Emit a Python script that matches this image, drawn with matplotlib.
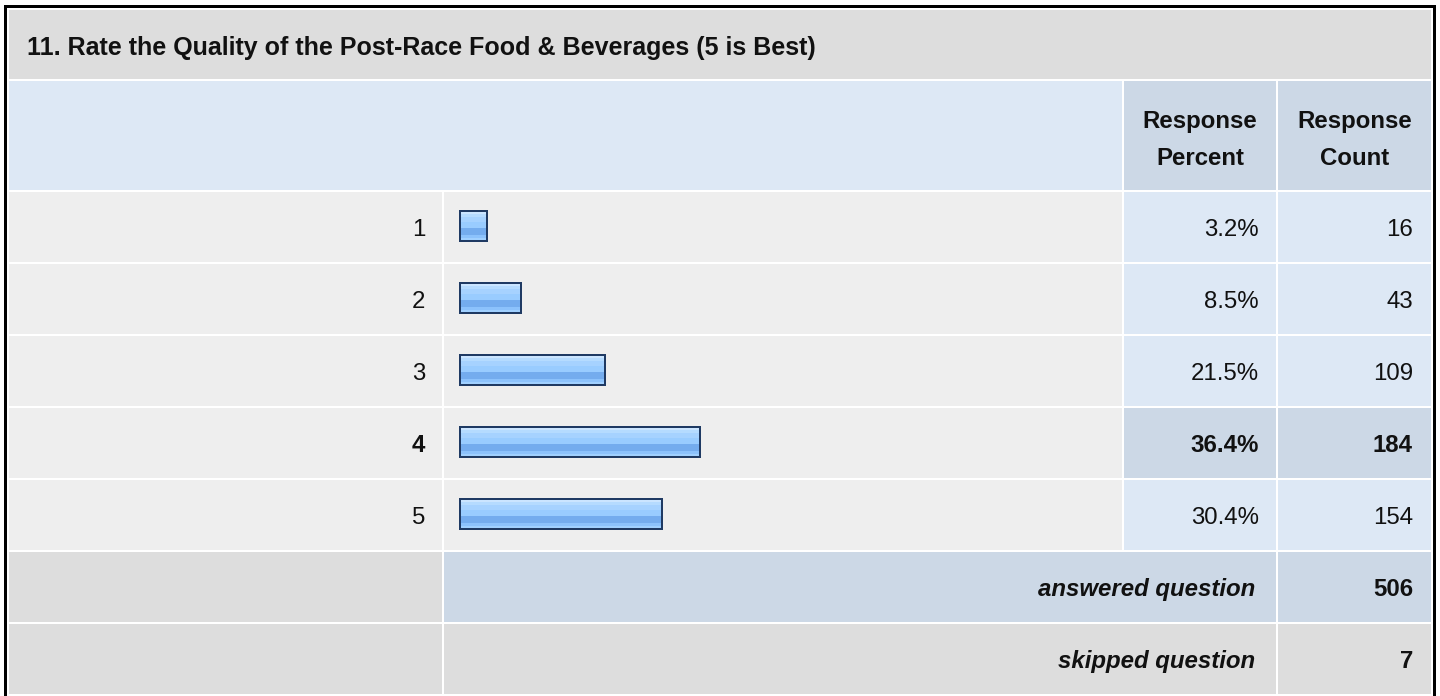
import matplotlib
matplotlib.use("Agg")
import matplotlib.pyplot as plt
from matplotlib.patches import Rectangle
from matplotlib.colors import ListedColormap
import numpy as np

# ---- data ----
title = "11. Rate the Quality of the Post-Race Food & Beverages (5 is Best)"
categories = ["1", "2", "3", "4", "5"]
percents = [3.2, 8.5, 21.5, 36.4, 30.4]
counts = [16, 43, 109, 184, 154]
highlight = "4"
answered = 506
skipped = 7
header_pct = ["Response", "Percent"]
header_cnt = ["Response", "Count"]

# ---- style ----
W, H = 1440, 696
FONT = "Liberation Sans"
FS = 24 * 72 / 100  # ~24 px
FS_TITLE = 25 * 72 / 100
C_TITLE = "#DDDDDD"
C_HEAD = "#DDE8F5"
C_DARK = "#CCD8E6"
C_ROW = "#EEEEEE"
C_VAL = "#DDE8F5"
C_GREY = "#DDDDDD"
C_EDGE = "#1F3A63"

fig = plt.figure(figsize=(W / 100, H / 100), dpi=100)
ax = fig.add_axes([0, 0, 1, 1])
ax.set_xlim(0, W)
ax.set_ylim(H, 0)
ax.axis("off")


def cell(x0, y0, x1, y1, c, z=1):
    ax.add_patch(Rectangle((x0, y0), x1 - x0, y1 - y0, facecolor=c, edgecolor="none", zorder=z))


def txt(x, y, s, ha="left", weight="normal", style="normal", size=FS):
    ax.text(x, y, s, ha=ha, va="baseline", fontsize=size, family=FONT,
            fontweight=weight, fontstyle=style, color="#111111", zorder=5)


# outer border
cell(4, 5, 7, H + 5, "black", 2)
cell(1433, 5, 1436, H + 5, "black", 2)
cell(4, 5, 1436, 8, "black", 2)

LX0, LX1 = 9, 442
BX0, BX1 = 444, 1122
PX0, PX1 = 1124, 1276
CX0, CX1 = 1278, 1431

# title
cell(LX0, 10, CX1, 79, C_TITLE)
txt(27, 55, title, weight="bold", size=FS_TITLE)

# header
cell(LX0, 81, BX1, 190, C_HEAD)
cell(PX0, 81, PX1, 190, C_DARK)
cell(CX0, 81, CX1, 190, C_DARK)
for (x0, x1), lines in (((PX0, PX1), header_pct), ((CX0, CX1), header_cnt)):
    txt((x0 + x1) / 2, 128, lines[0], ha="center", weight="bold")
    txt((x0 + x1) / 2, 165, lines[1], ha="center", weight="bold")

ROW0, PITCH, RH = 192, 72, 70
for i, (cat, p, n) in enumerate(zip(categories, percents, counts)):
    y0 = ROW0 + PITCH * i
    hl = cat == highlight
    cell(LX0, y0, LX1, y0 + RH, C_ROW)
    cell(BX0, y0, BX1, y0 + RH, C_ROW)
    cell(PX0, y0, PX1, y0 + RH, C_DARK if hl else C_VAL)
    cell(CX0, y0, CX1, y0 + RH, C_DARK if hl else C_VAL)
    w = "bold" if hl else "normal"
    base = y0 + 44
    txt(425, base, cat, ha="right", weight=w)
    txt(1259, base, f"{p}%", ha="right", weight=w)
    txt(1413, base, str(n), ha="right", weight=w)

# footer rows
y0 = ROW0 + PITCH * len(categories)
cell(LX0, y0, LX1, y0 + RH, C_GREY)
cell(BX0, y0, PX1, y0 + RH, C_DARK)
cell(CX0, y0, CX1, y0 + RH, C_DARK)
txt(1255, y0 + 44, "answered question", ha="right", weight="bold", style="italic")
txt(1413, y0 + 44, str(answered), ha="right", weight="bold")
y0 += PITCH
cell(LX0, y0, LX1, y0 + RH, C_GREY)
cell(BX0, y0, PX1, y0 + RH, C_GREY)
cell(CX0, y0, CX1, y0 + RH, C_GREY)
txt(1255, y0 + 44, "skipped question", ha="right", weight="bold", style="italic")
txt(1413, y0 + 44, str(skipped), ha="right", weight="bold")

# ---- bar axes ----
px_per_pct = 6.42
zero_px = 466.5
bx_top, bx_bot = 190, 550
bax = fig.add_axes([BX0 / W, 1 - bx_bot / H, (BX1 - BX0) / W, (bx_bot - bx_top) / H])
bax.set_facecolor("none")
bax.set_zorder(2)
bax.axis("off")

ypos = np.arange(len(categories))
left = -6.5 / px_per_pct          # small minimum stub before zero
widths = [p - left for p in percents]
bh = 30 / 72
bars = bax.barh(ypos, widths, left=left, height=bh, color="#99CCFF", edgecolor="none", zorder=2)

grad_cols = (["#CBE5FF"] * 3 + ["#B5DBFF"] * 3 + ["#A6D2FF"] * 4 + ["#99CCFF"] * 6
             + ["#74ACEE"] * 6 + ["#8CC2FC"] * 3 + ["#A0D0FF"] * 3)
cmap = ListedColormap(grad_cols)
grad = np.linspace(0, 1, len(grad_cols)).reshape(-1, 1)
for b in bars:
    x, y, w, h = b.get_x(), b.get_y(), b.get_width(), b.get_height()
    im = bax.imshow(grad, cmap=cmap, aspect="auto", interpolation="nearest",
                    extent=(x, x + w, y + h, y), zorder=3)
    im.set_clip_path(b)

bax.barh(ypos, widths, left=left, height=bh, fill=False, edgecolor=C_EDGE,
         linewidth=2 * 72 / 100, zorder=4)
bax.set_xlim((BX0 - zero_px) / px_per_pct, (BX1 - zero_px) / px_per_pct)
bax.set_ylim(len(categories) - 0.5, -0.5)

fig.savefig("out.png", dpi=100, facecolor="white")
